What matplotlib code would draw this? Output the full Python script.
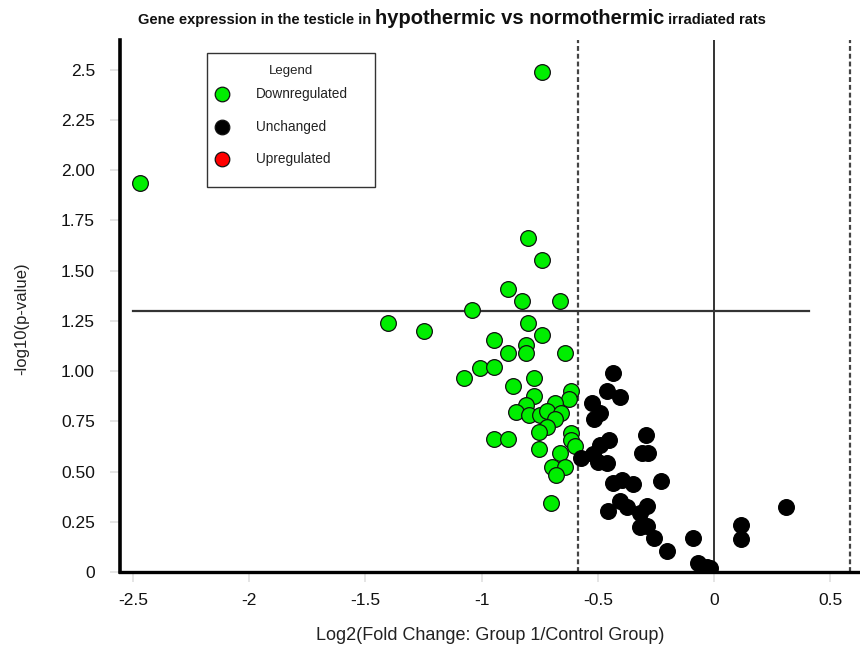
import matplotlib
matplotlib.use("Agg")
import matplotlib.pyplot as plt
import numpy as np

plt.rcParams['font.family'] = ['Liberation Sans', 'DejaVu Sans']

# ---- data ----
down_x = [-2.469, -0.74, -1.401, -1.247,
          -0.799, -0.738, -0.886, -0.827, -0.662, -1.042, -0.799, -0.738, -0.948,
          -0.809, -0.886, -0.809, -0.642, -1.005, -0.948,
          -1.075, -0.773, -0.866, -0.773, -0.616, -0.622, -0.809, -0.684, -0.853,
          -0.794, -0.748, -0.717, -0.659, -0.684, -0.717, -0.753, -0.616, -0.616,
          -0.598, -0.948, -0.886, -0.753, -0.662, -0.698, -0.641, -0.680, -0.701]
down_y = [1.935, 2.49, 1.24, 1.20,
          1.66, 1.55, 1.41, 1.35, 1.35, 1.305, 1.237, 1.178, 1.154,
          1.131, 1.088, 1.088, 1.088, 1.013, 1.018,
          0.964, 0.964, 0.927, 0.876, 0.902, 0.859, 0.831, 0.842, 0.798,
          0.781, 0.781, 0.803, 0.789, 0.761, 0.723, 0.695, 0.693, 0.657,
          0.628, 0.663, 0.663, 0.612, 0.591, 0.521, 0.521, 0.483, 0.345]

unch_x = [-0.436, -0.462, -0.404, -0.523, -0.490, -0.515, -0.292, -0.452, -0.490,
          -0.311, -0.282, -0.519, -0.573, -0.498, -0.462,
          -0.436, -0.397, -0.350, -0.229, -0.404, -0.376, -0.455, -0.287, -0.318,
          -0.318, -0.287, -0.257, -0.201, -0.089, -0.068, -0.031, -0.017,
          0.116, 0.116, 0.308]
unch_y = [0.992, 0.899, 0.872, 0.842, 0.789, 0.760, 0.682, 0.657, 0.632,
          0.591, 0.591, 0.587, 0.566, 0.549, 0.544,
          0.441, 0.458, 0.438, 0.454, 0.355, 0.322, 0.305, 0.330, 0.292,
          0.225, 0.229, 0.169, 0.106, 0.171, 0.046, 0.026, 0.018,
          0.234, 0.164, 0.325]

up_x = []
up_y = []

x_ticks = [-2.5, -2, -1.5, -1, -0.5, 0, 0.5]
x_ticklabels = ['-2.5', '-2', '-1.5', '-1', '-0.5', '0', '0.5']
y_ticks = [0, 0.25, 0.5, 0.75, 1.0, 1.25, 1.5, 1.75, 2.0, 2.25, 2.5]
y_ticklabels = ['0', '0.25', '0.50', '0.75', '1.00', '1.25', '1.50', '1.75', '2.00', '2.25', '2.5']

fc_cut = 0.585
p_cut = 1.3

# ---- figure ----
fig = plt.figure(figsize=(8.6, 6.51), dpi=100)
ax = fig.add_axes([120/860, 1-572/651, 740/860, 532/651])
ax.set_xlim(-2.555, 0.628)
ax.set_ylim(0, 2.647)

ms = 128
ax.scatter(down_x, down_y, s=ms, c='#00ee00', edgecolors='#111111', linewidths=0.9, zorder=3)
ax.scatter(unch_x, unch_y, s=ms, c='black', edgecolors='black', linewidths=0.9, zorder=3)
ax.scatter(up_x, up_y, s=ms, c='red', edgecolors='black', linewidths=0.9, zorder=3)

ax.axvline(-fc_cut, color='#444444', lw=1.6, ls=(0, (2.2, 1.3)), zorder=2)
ax.axvline(fc_cut, color='#444444', lw=1.6, ls=(0, (2.2, 1.3)), zorder=2)
ax.axvline(0, color='#333333', lw=1.4, zorder=2)
ax.plot([-2.5, 0.41], [p_cut, p_cut], color='#333333', lw=1.6, zorder=2)

for s in ['top', 'right']:
    ax.spines[s].set_visible(False)
ax.spines['left'].set_linewidth(2.6)
ax.spines['bottom'].set_linewidth(2.4)

ax.set_xticks(x_ticks)
ax.set_xticklabels(x_ticklabels)
ax.set_yticks(y_ticks)
ax.set_yticklabels(y_ticklabels)
ax.tick_params(axis='both', direction='out', length=7, width=1.2, color='#e0e0e0',
               labelsize=12.5, labelcolor='#111111')
ax.tick_params(axis='y', pad=11)
ax.tick_params(axis='x', pad=8)

ax.set_xlabel('Log2(Fold Change: Group 1/Control Group)', fontsize=13, color='#222222')
ax.xaxis.set_label_coords((490-120)/740, -(636-572)/532, transform=ax.transAxes)
ax.set_ylabel('-log10(p-value)', fontsize=12, color='#222222')
ax.yaxis.set_label_coords(-(120-22)/740, (572-319)/532, transform=ax.transAxes)
ax.xaxis.label.set_va('center')
ax.yaxis.label.set_va('center')

# legend box
from matplotlib.patches import Rectangle
fig.patches.append(Rectangle((207/860, 1-187/651), 168/860, 134/651, transform=fig.transFigure,
                             fill=False, edgecolor='#333333', lw=1.0))
fig.text(291/860, 1-71/651, 'Legend', ha='center', va='center', fontsize=9.5, color='#222222')
leg_items = [('Downregulated', '#00ee00'), ('Unchanged', 'black'), ('Upregulated', 'red')]
for i, (lab, col) in enumerate(leg_items):
    yy = 1 - (94 + 32.5*i)/651
    fig.add_artist(plt.Line2D([222/860], [yy], marker='o', markersize=10.5, markerfacecolor=col,
                              markeredgecolor='#111111', markeredgewidth=0.9, transform=fig.transFigure))
    fig.text(256/860, yy, lab, ha='left', va='center', fontsize=9.8, color='#222222')

# title composed of three parts
parts = [('Gene expression in the testicle in ', 10.5), ('hypothermic vs normothermic', 14.5),
         (' irradiated rats', 10.5)]
fig.canvas.draw()
r = fig.canvas.get_renderer()
tfam = ['Liberation Sans Narrow', 'Liberation Sans']
texts = []
widths = []
for t, fs in parts:
    tx = fig.text(0, 1-20/651, t, fontsize=fs, fontweight='bold', family=tfam, ha='left',
                  va='baseline', color='#111111')
    bb = tx.get_window_extent(renderer=r)
    texts.append(tx)
    widths.append(bb.width)
total = sum(widths)
start = 452 - total/2
cur = start
for tx, w in zip(texts, widths):
    tx.set_x(cur/860)
    tx.set_y(1-24/651)
    cur += w

fig.savefig('out.png', dpi=100)
